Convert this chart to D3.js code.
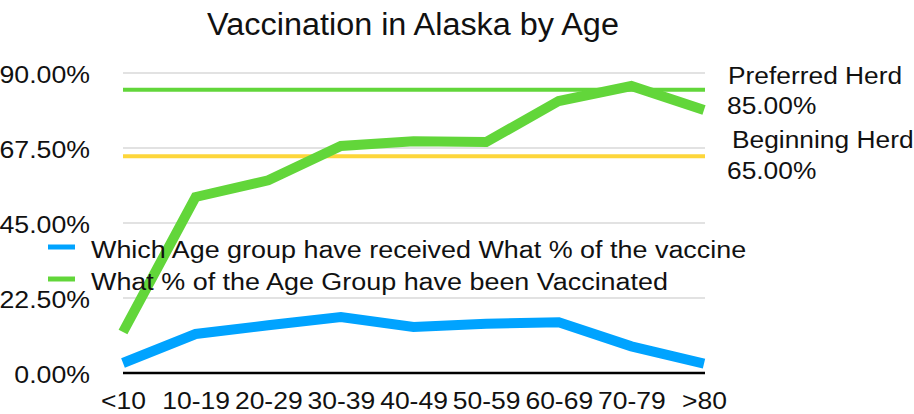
<!DOCTYPE html>
<html><head><meta charset="utf-8">
<script src="https://cdn.jsdelivr.net/npm/d3@7"></script>
<style>body{margin:0;background:#fff}svg{display:block}text{font-family:"Liberation Sans",Arial,Helvetica,sans-serif;fill:#111}</style>
</head><body>
<svg id="c" width="914" height="414"></svg>
<script>
const categories = ["<10","10-19","20-29","30-39","40-49","50-59","60-69","70-79",">80"];
const shareOfVaccine = [3.0, 11.7, 14.3, 16.8, 13.8, 14.8, 15.2, 8.0, 2.8];
const pctVaccinated = [12.3, 52.8, 57.8, 68.1, 69.5, 69.3, 81.6, 86.1, 78.9];
const yTicks = [0, 22.5, 45, 67.5, 90];
const preferredHerd = 85;
const beginningHerd = 65;
const seriesNames = ["Which Age group have received What % of the vaccine","What % of the Age Group have been Vaccinated"];

const svg = d3.select("#c");
const x = d3.scalePoint().domain(categories).range([123, 704]);
const y = d3.scaleLinear().domain([0, 90]).range([373, 73]);
const fmt = v => v.toFixed(2) + "%";

function stretch(sel, f){
  sel.each(function(){
    const w = this.getComputedTextLength();
    d3.select(this).attr("textLength", w*f).attr("lengthAdjust","spacingAndGlyphs");
  });
}

stretch(svg.append("text").attr("x", 413).attr("y", 35).attr("text-anchor","middle").attr("font-size", 31).text("Vaccination in Alaska by Age"), 1.045);

// gridlines
svg.append("g").selectAll("line").data(yTicks.filter(d=>d>0)).join("line")
  .attr("x1",123).attr("x2",705).attr("y1",d=>y(d)).attr("y2",d=>y(d))
  .attr("stroke","#c6c6c6").attr("stroke-width",1.2);

// y axis labels
const ya = svg.append("g").attr("transform","translate(90,0)")
  .call(d3.axisLeft(y).tickValues(yTicks).tickFormat(fmt).tickSize(0).tickPadding(0));
ya.select(".domain").remove();
ya.selectAll("text").attr("font-size",23).attr("font-family","Liberation Sans, Arial, sans-serif").attr("fill","#111").attr("dy","0.41em");
stretch(ya.selectAll("text"), 1.16);

// x axis
const xa = svg.append("g").attr("transform","translate(0,373)")
  .call(d3.axisBottom(x).tickSize(0).tickPadding(0));
xa.select(".domain").remove();
xa.selectAll("text").attr("font-size",23).attr("font-family","Liberation Sans, Arial, sans-serif").attr("fill","#111").attr("y",36).attr("dy",0);
stretch(xa.selectAll("text"), 1.15);
svg.append("line").attr("x1",123).attr("x2",705).attr("y1",y(0)).attr("y2",y(0)).attr("stroke","#000").attr("stroke-width",2.5);

// reference lines
svg.append("line").attr("x1",123).attr("x2",705).attr("y1",y(preferredHerd)).attr("y2",y(preferredHerd)).attr("stroke","#62d63a").attr("stroke-width",4);
svg.append("line").attr("x1",123).attr("x2",705).attr("y1",y(beginningHerd)).attr("y2",y(beginningHerd)).attr("stroke","#fdd63a").attr("stroke-width",4);

const rl = svg.append("g");
rl.append("text").attr("x",728).attr("y",84).text("Preferred Herd");
rl.append("text").attr("x",727).attr("y",114).text(fmt(preferredHerd));
rl.append("text").attr("x",732).attr("y",148).text("Beginning Herd");
rl.append("text").attr("x",727).attr("y",179).text(fmt(beginningHerd));
rl.selectAll("text").attr("font-size",23);
stretch(rl.selectAll("text"), 1.145);

const line = d3.line().x((d,i)=>x(categories[i])).y(d=>y(d));
svg.append("path").datum(shareOfVaccine).attr("d",line).attr("fill","none").attr("stroke","#00a3ff").attr("stroke-width",10);
svg.append("path").datum(pctVaccinated).attr("d",line).attr("fill","none").attr("stroke","#62d63a").attr("stroke-width",10);

// legend
const colors = ["#00a3ff","#62d63a"];
const lg = svg.append("g");
seriesNames.forEach((n,i)=>{
  const yy = 247 + i*32;
  lg.append("line").attr("x1",48).attr("x2",75).attr("y1",yy).attr("y2",yy).attr("stroke",colors[i]).attr("stroke-width",5);
  lg.append("text").attr("x",91).attr("y",yy+11).attr("font-size",23).text(n);
});
stretch(lg.selectAll("text"), 1.17);
</script>
</body></html>
